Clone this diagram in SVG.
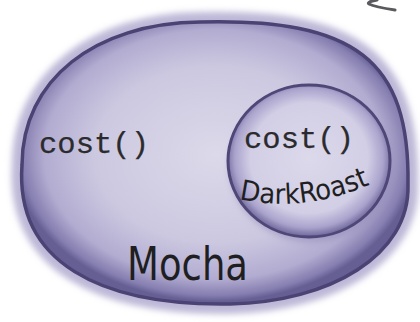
<svg xmlns="http://www.w3.org/2000/svg" width="420" height="322" viewBox="0 0 420 322">
  <defs>
    <radialGradient id="outerFill" cx="0.5" cy="0.47" r="0.52">
      <stop offset="0" stop-color="#dcd9ea"/>
      <stop offset="0.6" stop-color="#ccc8e0"/>
      <stop offset="0.85" stop-color="#b2acd1"/>
      <stop offset="0.96" stop-color="#857eb0"/>
      <stop offset="1" stop-color="#665f94"/>
    </radialGradient>
    <radialGradient id="innerFill" cx="0.5" cy="0.48" r="0.52">
      <stop offset="0" stop-color="#dcd9eb"/>
      <stop offset="0.7" stop-color="#d2cee5"/>
      <stop offset="0.88" stop-color="#aaa4cd"/>
      <stop offset="1" stop-color="#6b6498"/>
    </radialGradient>
    <filter id="soft" x="-10%" y="-10%" width="120%" height="120%">
      <feGaussianBlur stdDeviation="3"/>
    </filter>
  </defs>
  <style>
    .mono { font-family: "Liberation Mono", "DejaVu Sans Mono", monospace; font-size: 29px; fill: #2b2b2e; stroke: #2b2b2e; stroke-width: 0.25px; }
    .hand { font-family: "DejaVu Sans", "Liberation Sans", sans-serif; fill: #1f1f22; }
    .edge { fill: none; stroke: #4a4373; stroke-width: 3.5; }
  </style>
  <rect width="420" height="322" fill="#ffffff"/>

  <g id="mocha">
    <path d="M22,165 C22,80 95,23 200,22 C355,18 410,60 408,185 C410,255 330,302 230,304 C100,306 15,262 22,165 Z" fill="none" stroke="#bdb8d7" stroke-width="20" filter="url(#soft)"/>
    <path d="M22,165 C22,80 95,23 200,22 C355,18 410,60 408,185 C410,255 330,302 230,304 C100,306 15,262 22,165 Z" fill="url(#outerFill)"/>
    <path class="edge" d="M22,165 C22,80 95,23 200,22 C355,18 410,60 408,185 C410,255 330,302 230,304 C100,306 15,262 22,165 Z"/>
    <text class="mono" x="39" y="153" textLength="110" lengthAdjust="spacingAndGlyphs">cost()</text>
    <text class="hand" x="127" y="280" font-size="46" textLength="121" lengthAdjust="spacingAndGlyphs">Mocha</text>
  </g>

  <g id="darkroast">
    <ellipse cx="311" cy="166" rx="82" ry="76" fill="#8d87b6" opacity="0.5" filter="url(#soft)"/>
    <ellipse cx="309" cy="161" rx="81" ry="76" fill="url(#innerFill)"/>
    <ellipse cx="309" cy="161" rx="81" ry="76" fill="none" stroke="#4e4777" stroke-width="3"/>
    <text class="mono" x="244" y="148" textLength="110" lengthAdjust="spacingAndGlyphs">cost()</text>
    <path id="drPath" d="M239,199 Q305,214 376,182" fill="none"/>
    <text class="hand" font-size="28"><textPath href="#drPath" textLength="134" lengthAdjust="spacingAndGlyphs">DarkRoast</textPath></text>
  </g>

  <g id="connectors"/>

  <path d="M377,0 Q366,2 369,4 Q375,7 395,10" fill="none" stroke="#5a5a5e" stroke-width="3" stroke-linecap="round"/>
</svg>
